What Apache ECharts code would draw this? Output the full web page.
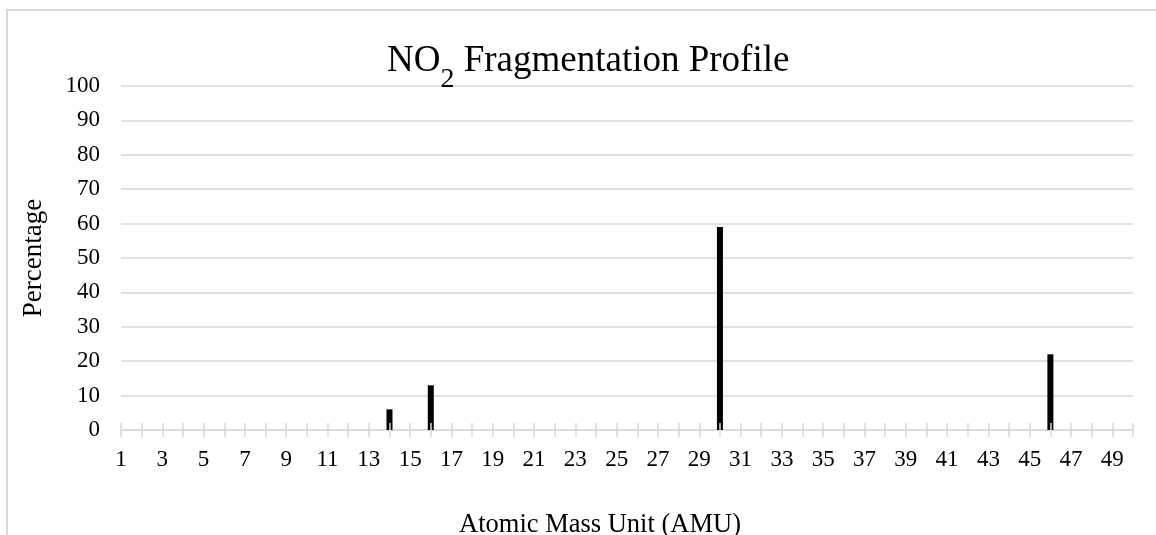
<!DOCTYPE html>
<html>
<head>
<meta charset="utf-8">
<script src="https://cdn.jsdelivr.net/npm/echarts@6/dist/echarts.min.js"></script>
<style>
  html, body { margin: 0; padding: 0; background: #fff; }
  #chart { width: 1156px; height: 535px; }
</style>
</head>
<body>
<div id="chart"></div>
<script>
// 数据
const amuPeaks = [14, 16, 30, 46]
const percentages = [6, 13, 59, 22]
const amuMin = 1
const amuMax = 50
const yTicks = [0, 10, 20, 30, 40, 50, 60, 70, 80, 90, 100]

const font = 'Liberation Serif'
const gridColor = '#d9d9d9'

const barData = amuPeaks.map((m, i) => [m, percentages[i]])

const myChart = echarts.init(document.getElementById('chart'))

const option = {
  animation: false,
  textStyle: { fontFamily: font },
  graphic: [
    {
      type: 'rect',
      shape: { x: 7, y: 10, width: 1300, height: 700 },
      style: { fill: 'none', stroke: gridColor, lineWidth: 2 },
      silent: true,
    },
  ],
  title: {
    text: '{a|NO}{sub|2}{a| Fragmentation Profile}',
    left: 387,
    top: 43,
    padding: 0,
    textStyle: {
      rich: {
        a: { fontFamily: font, fontSize: 37, fontWeight: 'normal', color: '#000', lineHeight: 44, verticalAlign: 'top' },
        sub: { fontFamily: font, fontSize: 28, fontWeight: 'normal', color: '#000', lineHeight: 28, padding: [23, 0, 0, 0], verticalAlign: 'top' },
      },
    },
  },
  grid: {
    left: 121,
    right: 23,
    top: 86,
    bottom: 105,
    containLabel: false,
    outerBoundsMode: 'none',
  },
  xAxis: [
    {
      type: 'value',
      min: amuMin,
      max: amuMax,
      interval: 1,
      position: 'bottom',
      name: 'Atomic Mass Unit (AMU)',
      nameLocation: 'middle',
      nameGap: 82,
      nameTextStyle: { fontFamily: font, fontSize: 26.5, color: '#000', padding: [0, 54, 0, 0] },
      axisLine: { show: true, onZero: false, lineStyle: { color: gridColor, width: 1.5 } },
      axisTick: { show: true, inside: false, length: 7, lineStyle: { color: gridColor, width: 1.5 } },
      axisLabel: {
        margin: 18,
        fontFamily: font,
        fontSize: 23,
        color: '#000',
        formatter: (v) => (v % 2 === 1 ? String(v) : ''),
      },
      splitLine: { show: false },
    },
    {
      type: 'value',
      min: amuMin,
      max: amuMax,
      interval: 1,
      position: 'bottom',
      offset: 0,
      z: 5,
      axisLine: { show: false },
      axisTick: { show: true, inside: true, length: 7, lineStyle: { color: gridColor, width: 1.5 } },
      axisLabel: { show: false },
      splitLine: { show: false },
    },
  ],
  yAxis: {
    type: 'value',
    min: yTicks[0],
    max: yTicks[yTicks.length - 1],
    interval: yTicks[1] - yTicks[0],
    name: 'Percentage',
    nameLocation: 'middle',
    nameGap: 74,
    nameRotate: 90,
    nameTextStyle: { fontFamily: font, fontSize: 27, color: '#000' },
    axisLine: { show: false },
    axisTick: { show: false },
    axisLabel: { margin: 21, fontFamily: font, fontSize: 23, color: '#000' },
    splitLine: { lineStyle: { color: gridColor, width: 1.5 } },
  },
  series: [
    {
      type: 'bar',
      xAxisIndex: 0,
      barWidth: 6,
      itemStyle: { color: '#000' },
      data: barData,
    },
  ],
}

myChart.setOption(option)
</script>
</body>
</html>
